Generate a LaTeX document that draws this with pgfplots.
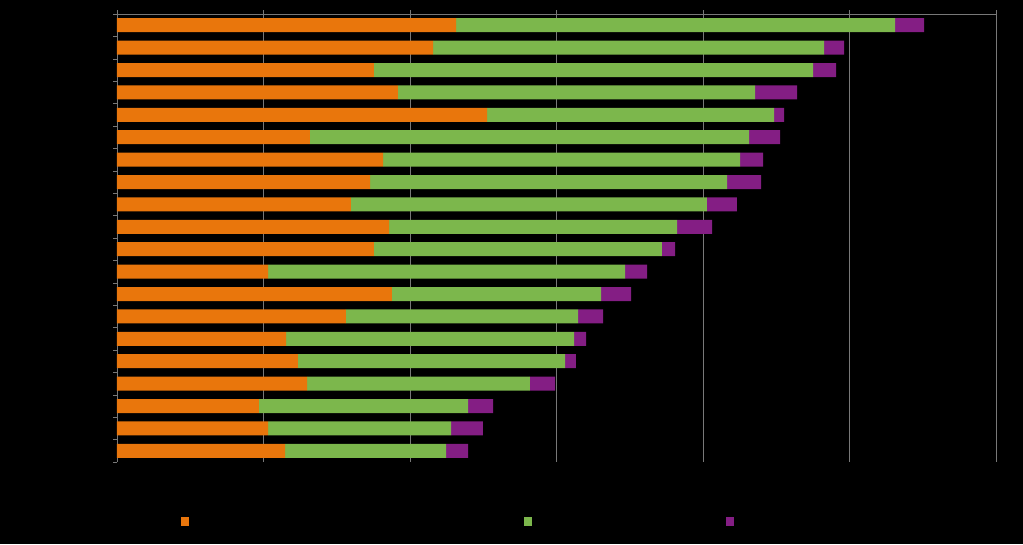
\documentclass[border=0pt]{standalone}
\usepackage{pgfplots}
\usepackage{pgfplotstable}
\pgfplotsset{compat=1.18}
\definecolor{cOr}{RGB}{233,118,12}
\definecolor{cGr}{RGB}{124,183,76}
\definecolor{cPu}{RGB}{132,30,132}
\definecolor{cAx}{RGB}{120,120,120}
\pgfplotstableread{
y a b c
1 23.14 29.97 1.98
2 21.57 26.69 1.37
3 17.54 29.97 1.57
4 19.18 24.37 2.87
5 25.26 19.59 0.68
6 13.17 29.97 2.12
7 18.16 24.37 1.57
8 17.27 24.37 2.32
9 15.97 24.30 2.05
10 18.57 19.66 2.39
11 17.54 19.66 0.89
12 10.31 24.37 1.50
13 18.77 14.27 2.05
14 15.63 15.84 1.71
15 11.54 19.66 0.82
16 12.35 18.23 0.75
17 12.97 15.22 1.71
18 9.69 14.27 1.71
19 10.31 12.49 2.18
20 11.47 10.99 1.50
}\datatable
\begin{document}
\begin{tikzpicture}[x=1pt,y=1pt]
\fill[black] (-117,-82) rectangle (906,462);
\begin{axis}[
  at={(0,0)}, anchor=south west,
  scale only axis, width=879pt, height=448pt,
  xbar stacked, bar width=14pt,
  xmin=0, xmax=60, ymin=0.5, ymax=20.5, y dir=reverse,
  axis x line*=top, axis y line*=left,
  axis line style={cAx, line width=0.6pt},
  xtick={0,10,...,60}, xticklabels={},
  ytick={0.5,1.5,...,20.5}, yticklabels={},
  tick align=outside, major tick length=4pt,
  tick style={cAx, line width=0.6pt},
  xmajorgrids, grid style={cAx, line width=0.6pt},
  legend style={at={(rel axis cs:0.0728,-0.1317)}, anchor=west, draw=none, fill=none,
    inner sep=0pt, legend columns=3, font=\small, text=black,
    /tikz/every even column/.append style={column sep=0pt}},
  legend image code/.code={\fill[#1,draw=none] (0pt,-4.5pt) rectangle (8pt,4.5pt);},
]
\addplot[fill=cOr, draw=none] table[x=a, y=y] {\datatable};
\addlegendentry{\rule{331pt}{0pt}}
\addplot[fill=cGr, draw=none] table[x=b, y=y] {\datatable};
\addlegendentry{\rule{190pt}{0pt}}
\addplot[fill=cPu, draw=none] table[x=c, y=y] {\datatable};
\addlegendentry{\rule{1pt}{0pt}}
\end{axis}
\end{tikzpicture}
\end{document}
